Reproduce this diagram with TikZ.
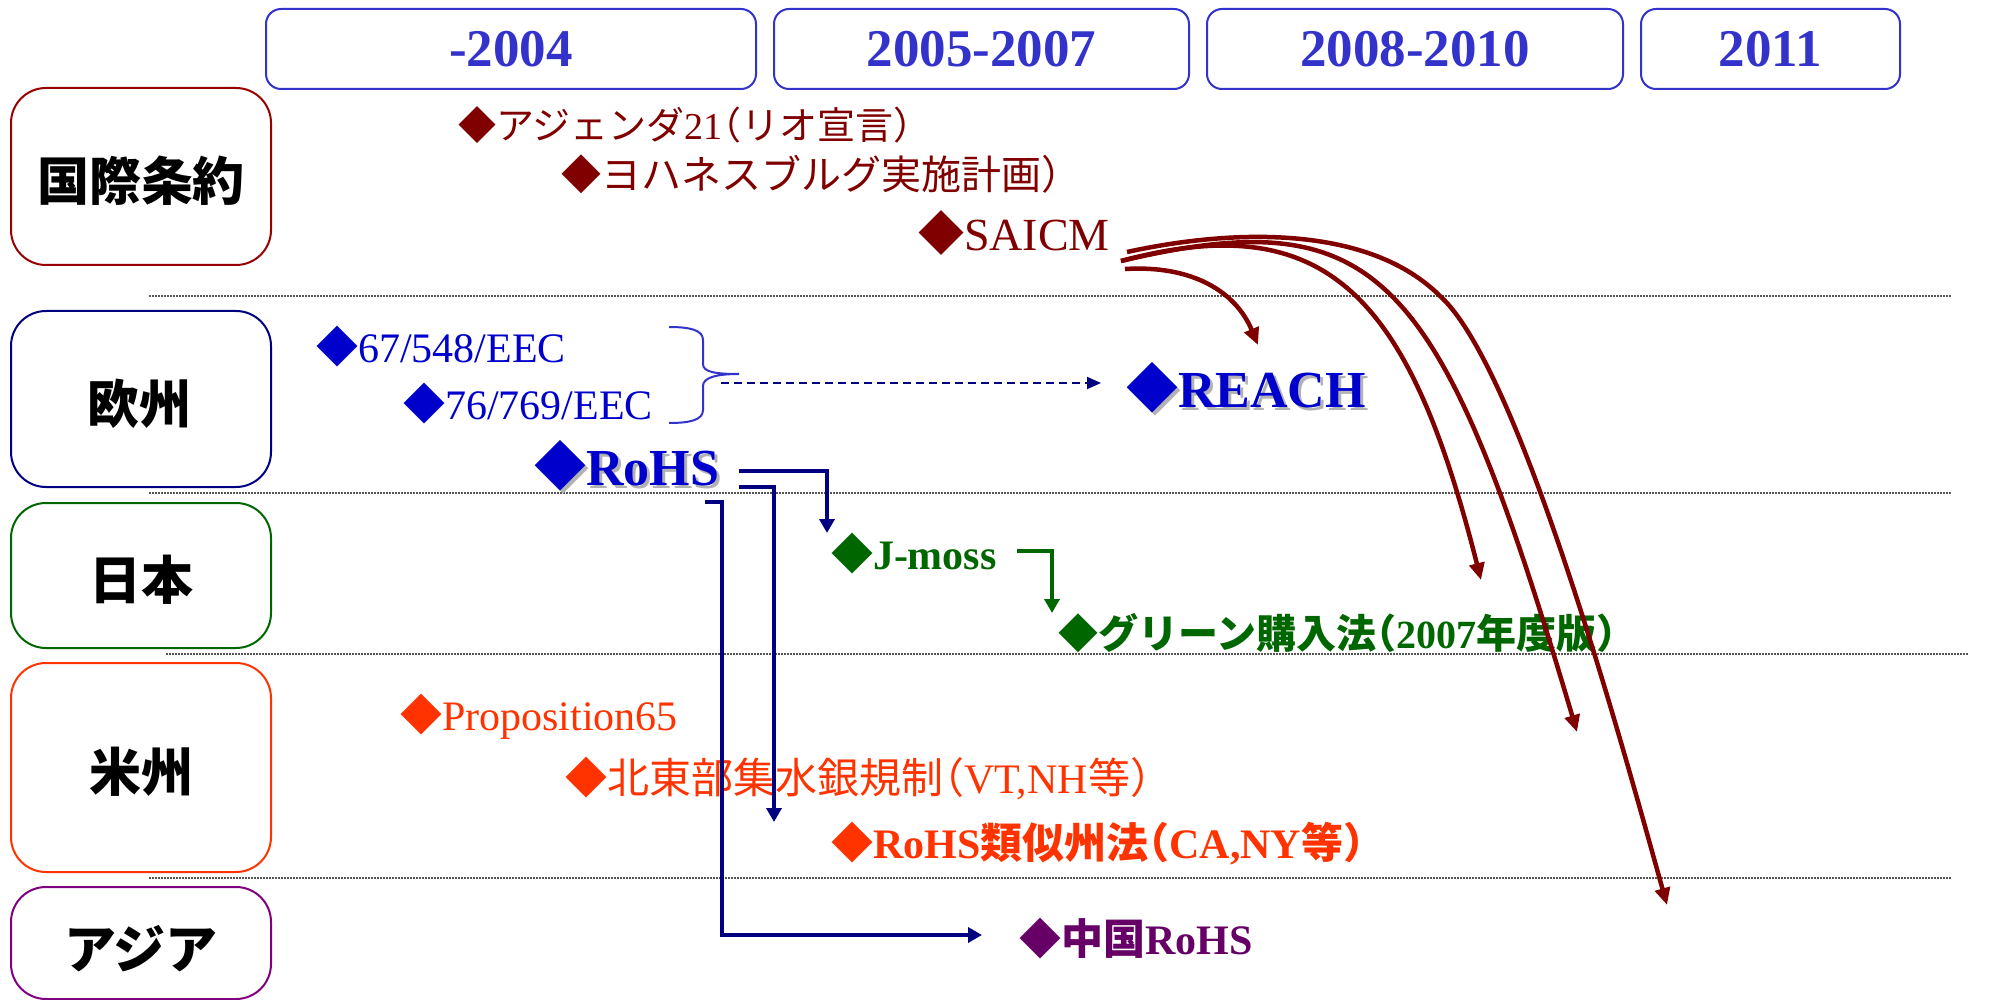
\documentclass[tikz,border=0pt]{standalone}
\usepackage{fontspec}
\setmainfont{Liberation Serif}
\newfontfamily\jp{Noto Sans CJK JP}
\newfontfamily\jph[RawFeature=+halt]{Noto Sans CJK JP}
\usetikzlibrary{arrows.meta}
\newcommand\fsz[1]{\fontsize{#1}{#1}\selectfont}
\definecolor{hdrblue}{HTML}{3333CC}
\definecolor{saicmred}{HTML}{800000}
\definecolor{eublue}{HTML}{0000CC}
\definecolor{navyc}{HTML}{000080}
\definecolor{jpgreen}{HTML}{006600}
\definecolor{usred}{HTML}{FF3300}
\definecolor{aspurple}{HTML}{660066}
\definecolor{boxred}{HTML}{990000}
\definecolor{boxpurple}{HTML}{800080}
\definecolor{sepgray}{HTML}{555555}
\tikzset{
  hdr/.style={draw=hdrblue, line width=2pt, rounded corners=15pt, text=hdrblue,
    font=\fsz{53}\bfseries, inner sep=0pt, minimum height=80pt},
  rowbox/.style={draw=#1, line width=2pt, rounded corners=35pt, minimum width=260pt, inner sep=0pt},
  rowlabel/.style={font=\jp\bfseries\fsz{52}, inner sep=0pt},
  item/.style={anchor=base west, inner sep=0pt, outer sep=0pt},
  sepline/.style={draw=sepgray, line width=1.5pt, dash pattern=on 1.5pt off 1.5pt},
  redarrow/.style={draw=saicmred, line width=4.5pt, -{Triangle[length=17pt,width=15pt]}},
  navyarrow/.style={draw=navyc, line width=4pt, -{Triangle[length=14pt,width=15pt]}},
  greenarrow/.style={draw=jpgreen, line width=4pt, -{Triangle[length=14pt,width=15pt]}},
  dasharrow/.style={draw=navyc, line width=2pt, dash pattern=on 8pt off 5pt, -{Triangle[length=14pt,width=12pt]}},
  bracepath/.style={draw=hdrblue, line width=2pt},
}
\begin{document}
\begin{tikzpicture}[x=1pt,y=-1pt]
\useasboundingbox (0,0) rectangle (1992,1000);
% separators
\draw[sepline] (149,296) -- (1952,296);
\draw[sepline] (149,493) -- (1952,493);
\draw[sepline] (166,654) -- (1969,654);
\draw[sepline] (149,878) -- (1952,878);
% headers
\node[hdr, minimum width=490pt] (h1) at (511,49) {-2004};
\node[hdr, minimum width=415pt] (h2) at (981.5,49) {2005-2007};
\node[hdr, minimum width=416pt] (h3) at (1415,49) {2008-2010};
\node[hdr, minimum width=259pt] (h4) at (1770.5,49) {2011};
% row boxes
\node[rowbox=boxred, minimum height=177pt] (b1) at (141,176.5) {};
\node[rowbox=navyc, minimum height=176pt] (b2) at (141,399) {};
\node[rowbox=jpgreen, minimum height=145pt] (b3) at (141,575.5) {};
\node[rowbox=usred, minimum height=209pt] (b4) at (141,767.5) {};
\node[rowbox=boxpurple, minimum height=112pt] (b5) at (141,943) {};
\node[rowlabel] (l1) at (141,181) {国際条約};
\node[rowlabel] (l2) at (139,404) {欧州};
\node[rowlabel] (l3) at (141,580) {日本};
\node[rowlabel] (l4) at (141,772) {米州};
\node[rowlabel] (l5) at (141,949) {アジア};
% items
\node[item, text=saicmred, font=\fsz{38}] (agenda) at (458,140) {{\jp ◆アジェンダ}21{\jph （}{\jp リオ宣言}{\jph ）}};
\node[item, text=saicmred, font=\fsz{40}] (johan) at (561,190) {{\jp ◆ヨハネスブルグ実施計画}{\jph ）}};
\node[item, text=saicmred, font=\fsz{46}] (saicm) at (918,251) {{\jp ◆}SAICM};
\node[item, text=eublue, font=\fsz{42}] (eec1) at (316,362) {{\jp ◆}67/548/EEC};
\node[item, text=eublue, font=\fsz{42}] (eec2) at (403,419) {{\jp ◆}76/769/EEC};
\node[item, text=black!30, font=\fsz{52}\bfseries] (rohsshadow) at (537,488) {{\jp ◆}RoHS};
\node[item, text=eublue, font=\fsz{52}\bfseries] (rohs) at (534,485) {{\jp ◆}RoHS};
\node[item, text=black!30, font=\fsz{52}\bfseries] (reachshadow) at (1129,410) {{\jp ◆}REACH};
\node[item, text=eublue, font=\fsz{52}\bfseries] (reach) at (1126,407) {{\jp ◆}REACH};
\node[item, text=jpgreen, font=\fsz{42}\bfseries] (jmoss) at (831,569) {{\jp ◆}J-moss};
\node[item, text=jpgreen, font=\fsz{40}\bfseries] (green) at (1058,648) {{\jp ◆グリーン購入法}{\jph （}2007{\jp 年度版}{\jph ）}};
\node[item, text=usred, font=\fsz{42}] (prop) at (400,730) {{\jp ◆}Proposition65};
\node[item, text=usred, font=\fsz{42}] (mercury) at (565,793) {{\jp ◆北東部集水銀規制}{\jph （}VT,NH{\jp 等}{\jph ）}};
\node[item, text=usred, font=\fsz{42}\bfseries] (usrohs) at (831,858) {{\jp ◆}RoHS{\jp 類似州法}{\jph （}CA,NY{\jp 等}{\jph ）}};
\node[item, text=aspurple, font=\fsz{42}\bfseries] (cnrohs) at (1019,954) {{\jp ◆中国}RoHS};
% brace and dashed arrow
\draw[bracepath] (669,327) .. controls (690,327) and (703,330) .. (703,340) -- (703,364)
  .. controls (703,372) and (715,374) .. (739,374)
  .. controls (715,374) and (703,378) .. (703,386) -- (703,410)
  .. controls (703,420) and (690,423) .. (669,423);
\coordinate (dashs) at (721,383);
\coordinate (dashe) at (1101,383);
\draw[dasharrow] (dashs) -- (dashe);
% SAICM arrows
\coordinate (s1) at (1127,252);
\coordinate (s1m) at (1440,296);
\coordinate (s2) at (1121,261);
\coordinate (s4) at (1125,269);
\coordinate (t1) at (1667,905);
\coordinate (t2) at (1577,732);
\coordinate (t3) at (1481,580);
\coordinate (t4) at (1258,345);
\draw[redarrow] (s1) .. controls (1237,228) and (1370,226) .. (s1m)
  .. controls (1520,368) and (1625,755) .. (t1);
\draw[redarrow] (s2) .. controls (1380,200) and (1440,270) .. (t2);
\draw[redarrow] (s2) .. controls (1330,205) and (1410,300) .. (t3);
\draw[redarrow] (s4) .. controls (1190,265) and (1235,290) .. (t4);
% RoHS arrows
\coordinate (r1s) at (739,471);
\coordinate (r1e) at (827,533);
\coordinate (r2s) at (739,487);
\coordinate (r2e) at (774,822);
\coordinate (r3s) at (705,502);
\coordinate (r3c) at (722,935);
\coordinate (r3e) at (982,935);
\draw[navyarrow] (r1s) -| (r1e);
\draw[navyarrow] (r2s) -| (r2e);
\draw[navyarrow] (r3s) -| (r3c) -- (r3e);
% J-moss arrow
\coordinate (gs) at (1017,551);
\coordinate (ge) at (1052,613);
\draw[greenarrow] (gs) -| (ge);
\end{tikzpicture}
\end{document}
